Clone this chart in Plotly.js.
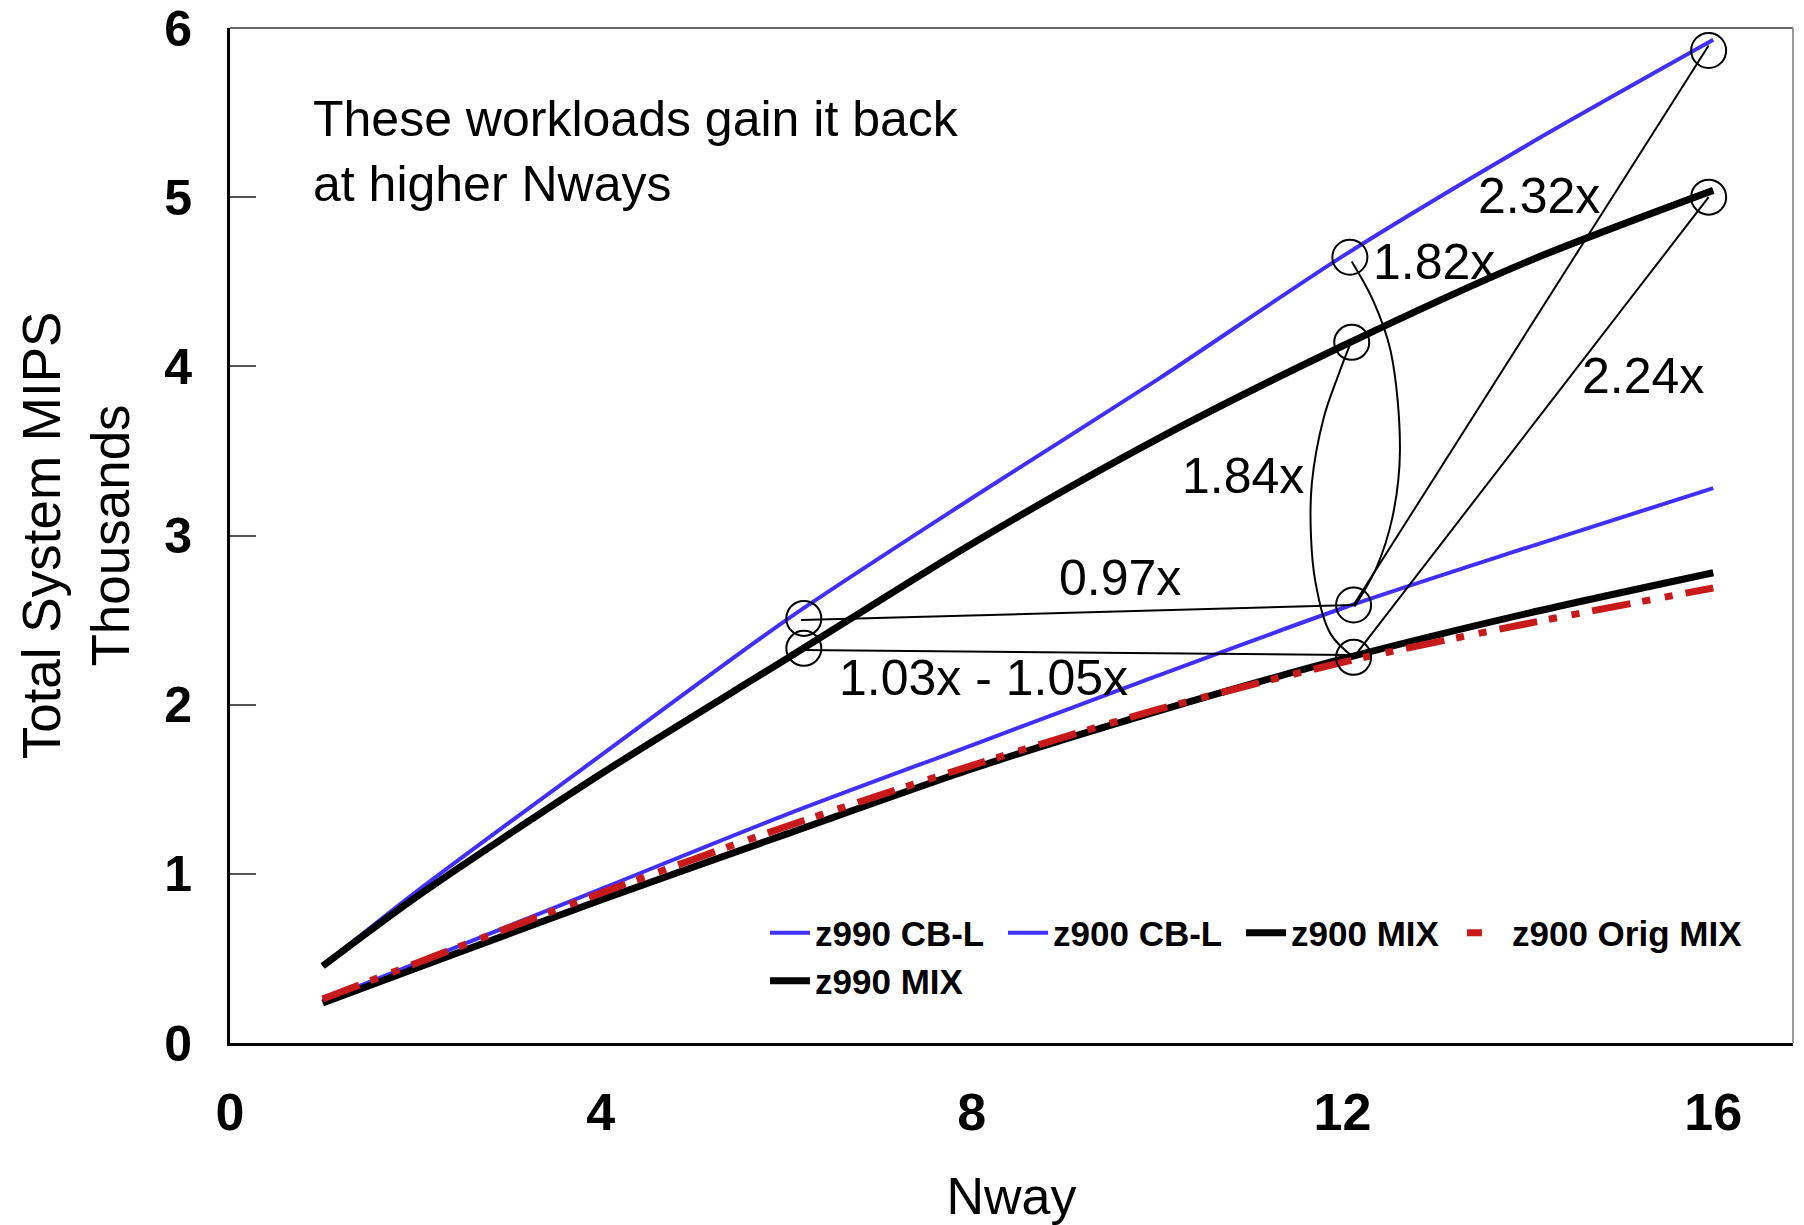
<!DOCTYPE html>
<html>
<head>
<meta charset="utf-8">
<script src="https://cdn.plot.ly/plotly-3.0.1.min.js"></script>
<style>html,body{margin:0;padding:0;background:#fff;}#chart{width:1804px;height:1225px;}</style>
</head>
<body>
<div id="chart"></div>
<script>
// ---- data ----
const nways = [1, 2, 4, 6, 8, 10, 12, 14, 16];
const z990CBL = [0.455, 0.89, 1.70, 2.50, 3.22, 3.92, 4.65, 5.31, 5.93];
const z900CBL = [0.25, 0.47, 0.91, 1.35, 1.76, 2.17, 2.57, 2.93, 3.28];
const z900MIX = [0.237, 0.44, 0.845, 1.235, 1.62, 1.96, 2.27, 2.54, 2.78];
const z900OrigMIX = [0.26, 0.47, 0.886, 1.28, 1.64, 1.97, 2.25, 2.48, 2.69];
const z990MIX = [0.455, 0.86, 1.59, 2.27, 2.95, 3.57, 4.12, 4.62, 5.04];

const seriesNames = ['z990 CB-L', 'z900 CB-L', 'z900 MIX', 'z900 Orig MIX', 'z990 MIX'];
const xTickVals = [0, 4, 8, 12, 16];
const yTickVals = [0, 1, 2, 3, 4, 5, 6];

// annotation circles (data coordinates of centers)
const circleX = [15.95, 15.95, 12.08, 12.10, 12.12, 12.12, 6.19, 6.19];
const circleY = [5.867, 5.00, 4.645, 4.142, 2.589, 2.28, 2.51, 2.333];

// connector lines
const link097X = [6.16, 12.12];   const link097Y = [2.50, 2.589];
const link103X = [6.16, 12.09];   const link103Y = [2.323, 2.294];
const link232X = [12.12, 15.95];  const link232Y = [2.589, 5.897];
const link224X = [12.12, 15.95];  const link224Y = [2.28, 5.00];
const arc182X = [12.10, 12.33, 12.52, 12.62, 12.54, 12.37, 12.13];
const arc182Y = [4.62, 4.39, 4.09, 3.50, 3.11, 2.815, 2.58];
const arc184X = [12.09, 11.95, 11.80, 11.67, 11.66, 11.71, 11.87, 12.12];
const arc184Y = [4.14, 3.94, 3.70, 3.31, 3.00, 2.72, 2.42, 2.28];

// ratio labels
const labelText = ['2.32x', '1.82x', '2.24x', '1.84x', '0.97x', '1.03x - 1.05x'];
const labelX = [14.12, 12.99, 15.24, 10.93, 9.60, 8.13];
const labelY = [5.005, 4.615, 3.94, 3.35, 2.75, 2.16];
const noteText = 'These workloads gain it back<br>at higher Nways';
const noteX = 0.87, noteY = 5.27;

const BLUE = '#4030ff', RED = '#c81a1a', BLACK = '#000000';
const FONT = 'Liberation Sans, Arial, Helvetica, sans-serif';

const traces = [];
traces.push({x: nways, y: z990CBL, name: seriesNames[0], mode: 'lines', legend: 'legend',
  line: {color: BLUE, width: 4, shape: 'spline', smoothing: 0.8}});
traces.push({x: nways, y: z900CBL, name: seriesNames[1], mode: 'lines', legend: 'legend',
  line: {color: BLUE, width: 4, shape: 'spline', smoothing: 0.8}});
traces.push({x: nways, y: z900MIX, name: seriesNames[2], mode: 'lines', legend: 'legend',
  line: {color: BLACK, width: 7, shape: 'spline', smoothing: 0.8}});
traces.push({x: nways, y: z900OrigMIX, name: seriesNames[3], mode: 'lines', showlegend: false,
  line: {color: RED, width: 7, shape: 'spline', smoothing: 0.8, dash: '39px,12px,8px,15px,8px,13px'}});
// legend entry for the dash-dot series (shows only its first dot, as in the reference)
traces.push({x: [null], y: [null], name: seriesNames[3], mode: 'lines', legend: 'legend2',
  line: {color: RED, width: 7, dash: '15px,60px'}, hoverinfo: 'skip'});
traces.push({x: nways, y: z990MIX, name: seriesNames[4], mode: 'lines', legend: 'legend3',
  line: {color: BLACK, width: 7, shape: 'spline', smoothing: 0.8}});

[[link097X, link097Y, 'linear'], [link103X, link103Y, 'linear'], [link232X, link232Y, 'linear'],
 [link224X, link224Y, 'linear'], [arc182X, arc182Y, 'spline'], [arc184X, arc184Y, 'spline']].forEach(function (p) {
  traces.push({x: p[0], y: p[1], mode: 'lines', showlegend: false, hoverinfo: 'skip',
    line: {color: BLACK, width: 2, shape: p[2], smoothing: 1}});
});

const shapes = circleX.map(function (cx, i) {
  return {type: 'circle', xref: 'x', yref: 'y', xsizemode: 'pixel', ysizemode: 'pixel',
    xanchor: cx, yanchor: circleY[i], x0: -17.5, x1: 17.5, y0: -17.5, y1: 17.5,
    line: {color: BLACK, width: 2}, fillcolor: 'rgba(0,0,0,0)'};
});
// frame: top and right borders in grey
shapes.push({type: 'line', xref: 'paper', yref: 'paper', x0: 0, x1: 1, y0: 1, y1: 1, line: {color: '#666', width: 2}});
shapes.push({type: 'line', xref: 'paper', yref: 'paper', x0: 1, x1: 1, y0: 0, y1: 1, line: {color: '#999', width: 2}});

const annotations = labelText.map(function (t, i) {
  return {x: labelX[i], y: labelY[i], xref: 'x', yref: 'y', text: t, showarrow: false,
    xanchor: 'center', yanchor: 'middle', font: {family: FONT, size: 50, color: BLACK}};
});
annotations.push({x: noteX, y: noteY, xref: 'x', yref: 'y', text: noteText, showarrow: false,
  xanchor: 'left', yanchor: 'middle', align: 'left', font: {family: FONT, size: 50, color: BLACK}});

const legendFont = {family: FONT, size: 35, weight: 'bold', color: BLACK};
const legendBase = {orientation: 'h', xanchor: 'left', yanchor: 'top', font: legendFont,
  bgcolor: 'rgba(0,0,0,0)', borderwidth: 0, itemwidth: 40, traceorder: 'normal'};

const layout = {
  width: 1804, height: 1225,
  margin: {l: 230, r: 11, t: 28, b: 182, pad: 0},
  paper_bgcolor: '#ffffff', plot_bgcolor: '#ffffff',
  font: {family: FONT, color: BLACK},
  showlegend: true,
  xaxis: {
    range: [0, 16.86], tickvals: xTickVals, ticks: '', showgrid: false, zeroline: false,
    showline: true, linecolor: BLACK, linewidth: 3, automargin: false,
    tickfont: {family: FONT, size: 52, weight: 'bold', color: BLACK}, ticklabelstandoff: 22,
    title: {text: 'Nway', font: {family: FONT, size: 52, color: BLACK}, standoff: 38}
  },
  yaxis: {
    range: [0, 6], tickvals: yTickVals, ticks: 'inside', ticklen: 26, tickwidth: 2, tickcolor: '#555',
    showgrid: false, zeroline: false, showline: true, linecolor: BLACK, linewidth: 3, automargin: false,
    tickfont: {family: FONT, size: 50, weight: 'bold', color: BLACK}, ticklabelstandoff: 25,
    title: {text: 'Total System MIPS<br>Thousands', font: {family: FONT, size: 53, color: BLACK}, standoff: 18}
  },
  legend: Object.assign({}, legendBase, {x: 0.3423, y: 0.1374, entrywidth: 183, entrywidthmode: 'pixels'}),
  legend2: Object.assign({}, legendBase, {x: 0.7882, y: 0.1374}),
  legend3: Object.assign({}, legendBase, {x: 0.3423, y: 0.0901}),
  shapes: shapes,
  annotations: annotations
};

Plotly.newPlot('chart', traces, layout, {displayModeBar: false, staticPlot: true});
</script>
</body>
</html>
